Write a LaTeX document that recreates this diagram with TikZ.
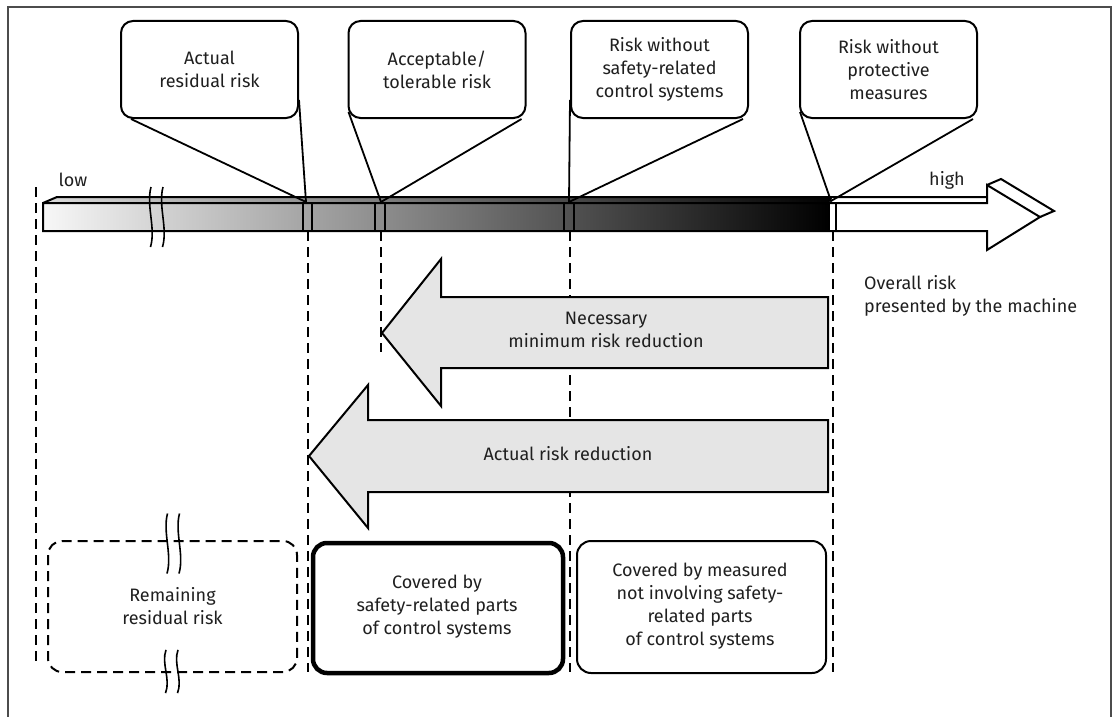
\documentclass[tikz,border=0pt]{standalone}
\usepackage{fontspec}
\setmainfont{Fira Sans}
\usetikzlibrary{calc}
\begin{document}
\begin{tikzpicture}[x=1pt,y=-1pt,
  txt/.style={font=\fontsize{18}{23}\selectfont, text=black!88, align=center, inner sep=0pt},
  callout/.style={draw, line width=2pt, rounded corners=12pt, minimum width=177pt, minimum height=97pt, txt},
  pointer/.style={line width=1.8pt},
  barline/.style={line width=2pt, line join=miter},
  guide/.style={line width=1.8pt, dash pattern=on 10pt off 6pt},
  reduction/.style={draw, line width=2pt, fill=black!10, line join=miter},
  part/.style={line width=2pt, rounded corners=14pt, txt},
  breakmark/.pic={
    \draw[line width=1.6pt] (-6.5,30) .. controls (-1,11) and (-11,-11) .. (-6,-30);
    \draw[line width=1.6pt] (5.5,30) .. controls (11,11) and (1,-11) .. (6,-30);
  }
]
\useasboundingbox (0,0) rectangle (1114,717);

% frame
\draw[line width=1.8pt, black!70] (8,717) -- (8,7) -- (1111,7) -- (1111,717);

% dashed guides
\draw[guide] (36,187) -- (36,665);
\draw[guide] (308,231) -- (308,672);
\draw[guide] (381,231) -- (381,352);
\draw[guide] (570,231) -- (570,672);
\draw[guide] (833,231) -- (833,672);

% risk scale bar
\fill[left color=black!14, right color=black] (43,203) -- (57,197) -- (833,197) -- (829,203) -- cycle;
\fill[left color=black!3, right color=black] (43,203) rectangle (829,231);
\fill[white] (829,203) -- (833,197) -- (987,197) -- (987,185) -- (1001,179) -- (1054,211) -- (1040,217) -- (987,250) -- (987,231) -- (829,231) -- cycle;
\draw[barline] (43,231) -- (43,203) -- (987,203) -- (987,185) -- (1040,217) -- (987,250) -- (987,231) -- cycle;
\draw[barline] (43,203) -- (57,197) -- (987,197);
\draw[barline] (987,185) -- (1001,179) -- (1054,211) -- (1040,217);
\foreach \a/\b in {303/312, 375/385, 564/574, 829/836}
  \draw[barline] (\a,203) -- (\a,231) (\b,203) -- (\b,231);
\pic at (157,217) {breakmark};

\coordinate (m1) at (306,202);
\coordinate (m2) at (381,202);
\coordinate (m3) at (569,202);
\coordinate (m4) at (831,201);

\node[txt] (low) at (73,180) {low};
\node[txt] (high) at (947,180) {high};
\node[txt, align=left, anchor=west] (overall) at (864,296) {Overall risk\\presented by the machine};

% callouts
\node[callout] (b1) at (209.5,69.5) {Actual\\residual risk};
\node[callout] (b2) at (437,69.5) {Acceptable/\\tolerable risk};
\node[callout] (b3) at (659.5,69.5) {Risk without\\safety-related\\control systems};
\node[callout] (b4) at (888.5,69.5) {Risk without\\protective\\measures};

\draw[pointer] ($(b1.south west)+(11,0)$) -- (m1) -- ($(b1.east)+(0,30.5)$);
\draw[pointer] ($(b2.west)+(1,42.5)$) -- (m2) -- ($(b2.south east)+(-5,0)$);
\draw[pointer] ($(b3.west)+(0,30.5)$) -- (m3) -- ($(b3.south east)+(-6,0)$);
\draw[pointer] ($(b4.west)+(1,42.5)$) -- (m4) -- ($(b4.south east)+(-5,0)$);

% reduction arrows
\draw[reduction] (828,297) -- (441,297) -- (441,259) -- (382,333) -- (441,406) -- (441,368) -- (828,368) -- cycle;
\node[txt] (nec) at (606,330) {Necessary\\minimum risk reduction};
\draw[reduction] (828,420) -- (368,420) -- (368,385) -- (309,456) -- (368,528) -- (368,492) -- (828,492) -- cycle;
\node[txt] (act) at (568,454) {Actual risk reduction};

% parts of the overall reduction
\draw[part, dash pattern=on 10pt off 6pt] (48,541) rectangle (297,672);
\node[txt] (rem) at (172.5,606) {Remaining\\residual risk};
\pic at (173.5,543.5) {breakmark};
\pic[yscale=0.72] at (172,671.5) {breakmark};

\draw[part, line width=4.5pt] (313,543) rectangle (563,673);
\node[txt] (cov) at (437,607) {Covered by\\safety-related parts\\of control systems};

\draw[part] (577,541) rectangle (826,673);
\node[txt] (meas) at (700,606) {Covered by measured\\not involving safety-\\related parts\\of control systems};
\end{tikzpicture}
\end{document}
